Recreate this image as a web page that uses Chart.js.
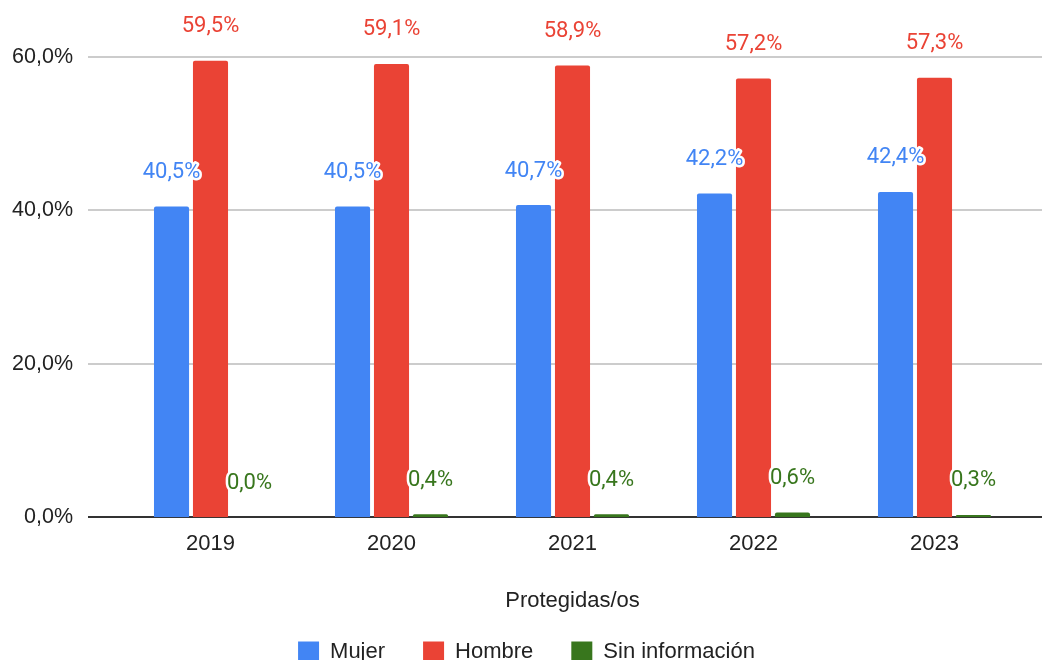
<!DOCTYPE html>
<html>
<head>
<meta charset="utf-8">
<script src="https://cdn.jsdelivr.net/npm/chart.js@4"></script>
<style>
  body { margin: 0; background: #fff; }
  #wrap { width: 1042px; height: 660px; }
</style>
</head>
<body>
<div id="wrap"><canvas id="chart" width="1042" height="660"></canvas></div>
<script>
const years = ["2019", "2020", "2021", "2022", "2023"];
const mujer = [40.5, 40.5, 40.7, 42.2, 42.4];
const hombre = [59.5, 59.1, 58.9, 57.2, 57.3];
const sinInfo = [0.0, 0.4, 0.4, 0.6, 0.3];
const yTicks = [0, 20, 40, 60];

const fmt = v => v.toFixed(1).replace(".", ",") + "%";

// grid lines reach past the plot area, like the sheet export
const gridPlugin = {
  id: "grid",
  afterLayout(chart) {
    // legend sits a bit right of the canvas centre
    chart.legend.left = 28;
  },
  beforeDatasetsDraw(chart) {
    const ctx = chart.ctx, y = chart.scales.y, area = chart.chartArea;
    ctx.save();
    yTicks.forEach(t => {
      const py = Math.round(y.getPixelForValue(t));
      ctx.beginPath();
      ctx.moveTo(area.left - 32, py);
      ctx.lineTo(chart.width, py);
      ctx.lineWidth = 2;
      ctx.strokeStyle = t === 0 ? "#333333" : "#cccccc";
      ctx.stroke();
    });
    ctx.restore();
  }
};

const labelPlugin = {
  id: "barLabels",
  afterDatasetsDraw(chart) {
    const ctx = chart.ctx;
    ctx.save();
    ctx.font = "22px Roboto";
    ctx.textAlign = "center";
    ctx.textBaseline = "middle";
    ctx.lineJoin = "round";
    chart.data.datasets.forEach((ds, i) => {
      chart.getDatasetMeta(i).data.forEach((bar, j) => {
        const txt = fmt(ds.data[j]);
        ctx.lineWidth = 5;
        ctx.strokeStyle = "#ffffff";
        ctx.strokeText(txt, bar.x, bar.y - 34);
        ctx.fillStyle = ds.labelColor;
        ctx.fillText(txt, bar.x, bar.y - 34);
      });
    });
    ctx.restore();
  }
};

const barOpts = {
  barPercentage: 0.9,
  categoryPercentage: 0.646,
  borderRadius: { topLeft: 2, topRight: 2 },
  borderSkipped: "bottom"
};

const axisFont = { family: "Liberation Sans", size: 22 };

new Chart(document.getElementById("chart"), {
  type: "bar",
  data: {
    labels: years,
    datasets: [
      { label: "Mujer", data: mujer, backgroundColor: "#4285f4", labelColor: "#4285f4", ...barOpts },
      { label: "Hombre", data: hombre, backgroundColor: "#ea4335", labelColor: "#ea4335", ...barOpts },
      { label: "Sin información", data: sinInfo, backgroundColor: "#38761d", labelColor: "#38761d", ...barOpts }
    ]
  },
  options: {
    responsive: false,
    animation: false,
    layout: { padding: { top: 57, right: 17, left: 0, bottom: -13 } },
    plugins: {
      tooltip: { enabled: false },
      legend: {
        position: "bottom",
        labels: {
          font: axisFont,
          color: "#222222",
          boxWidth: 21,
          boxHeight: 21,
          padding: 38
        }
      }
    },
    scales: {
      x: {
        grid: { display: false },
        border: { display: false },
        ticks: { font: axisFont, color: "#222222", padding: 6 },
        title: {
          display: true,
          text: "Protegidas/os",
          font: axisFont,
          color: "#222222",
          padding: { top: 24, bottom: -11 }
        }
      },
      y: {
        min: 0,
        max: 60,
        grid: { display: false },
        border: { display: false },
        ticks: {
          stepSize: 20,
          padding: 39,
          font: { family: "Liberation Sans", size: 21.5 },
          color: "#222222",
          callback: v => fmt(v)
        },
        afterFit(scale) {
          scale.width = 120;
          scale.paddingTop = 0;
          scale.paddingBottom = 0;
        }
      }
    }
  },
  plugins: [gridPlugin, labelPlugin]
});
</script>
</body>
</html>
